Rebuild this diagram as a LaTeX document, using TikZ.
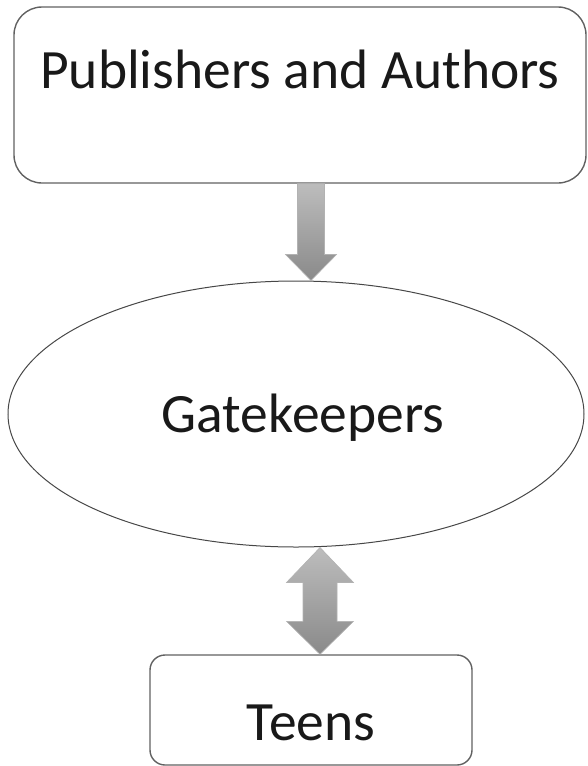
\documentclass[tikz,border=0pt]{standalone}
\usepackage{fontspec}
\setmainfont{Carlito}
\usetikzlibrary{shapes.geometric,calc}
\begin{document}
\begin{tikzpicture}[x=1pt,y=-1pt,
  labelfont/.style={font=\fontsize{55.5}{60}\selectfont, text=black!90},
  roundbox/.style={draw=black!62, line width=1.4pt, fill=white, inner sep=0pt, labelfont},
  ovalbox/.style={ellipse, draw=black!72, line width=1pt, fill=white, inner sep=0pt, labelfont},
  fatarrow/.style={draw=black!30, line width=0.6pt, top color=black!26, bottom color=black!46}]
\useasboundingbox (0,0) rectangle (587,766);

% the three stations of the flow
\node[roundbox, rounded corners=28pt, minimum width=572pt, minimum height=176pt,
      text height=40pt, text depth=54pt] (src) at (300,95) {Publishers and Authors};
\node[ovalbox, minimum width=576pt, minimum height=266pt,
      text height=40pt, text depth=4pt] (gate) at (296,414) {\hspace*{14pt}Gatekeepers};
\node[roundbox, rounded corners=15pt, minimum width=322pt, minimum height=110pt,
      text height=60pt, text depth=0pt] (teens) at (311,710) {Teens};

% one-way block arrow: publishers -> gatekeepers
\coordinate (a1s) at ($(src.south)+(11,0)$);
\coordinate (a1e) at ($(gate.north)+(15,0)$);
\path[fatarrow] let \p1=(a1s), \p2=(a1e) in
  (\x1-13.5pt,\y1) -- (\x1+13.5pt,\y1) -- (\x1+13.5pt,\y2+26pt) --
  (\x1+25.5pt,\y2+26pt) -- (\x1,\y2) -- (\x1-25.5pt,\y2+26pt) --
  (\x1-13.5pt,\y2+26pt) -- cycle;

% two-way block arrow: gatekeepers <-> teens
\coordinate (a2s) at ($(gate.south)+(24,0)$);
\coordinate (a2e) at ($(teens.north)+(9,0)$);
\path[fatarrow] let \p1=(a2s), \p2=(a2e) in
  (\x1,\y1) -- (\x1+33.5pt,\y1-35pt) -- (\x1+17pt,\y1-35pt) --
  (\x1+17pt,\y2+33pt) -- (\x1+33.5pt,\y2+33pt) -- (\x1,\y2) --
  (\x1-33.5pt,\y2+33pt) -- (\x1-17pt,\y2+33pt) -- (\x1-17pt,\y1-35pt) --
  (\x1-33.5pt,\y1-35pt) -- cycle;
\end{tikzpicture}
\end{document}
